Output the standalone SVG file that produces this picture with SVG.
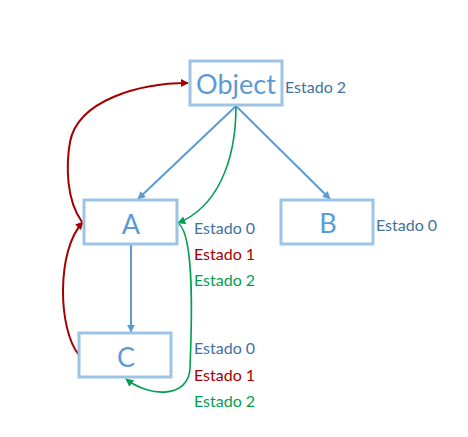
<svg xmlns="http://www.w3.org/2000/svg" width="468" height="437" viewBox="0 0 468 437">
<defs>
<style>
.box{fill:#ffffff;stroke:#9DC3E6;stroke-width:3}
.nt{font-family:Lato,"Liberation Sans",sans-serif;font-size:27px;fill:#5B9BD5;text-anchor:middle}
.lb{font-family:Lato,"Liberation Sans",sans-serif;font-size:16px}
.s0{fill:#41719C}
.s1{fill:#A50000}
.s2{fill:#00A050}
.cb{fill:none;stroke:#5B9BD5;stroke-width:2}
.cr{fill:none;stroke:#A50000;stroke-width:2}
.cg{fill:none;stroke:#00A050;stroke-width:1.6}
</style>
<marker id="ab" viewBox="0 0 10 10" refX="9" refY="5" markerWidth="4" markerHeight="4" orient="auto" markerUnits="strokeWidth"><path d="M0,0 L10,5 L0,10 z" fill="#5B9BD5"/></marker>
<marker id="ar" viewBox="0 0 10 10" refX="9" refY="5" markerWidth="4" markerHeight="4" orient="auto" markerUnits="strokeWidth"><path d="M0,0 L10,5 L0,10 z" fill="#A50000"/></marker>
<marker id="ag" viewBox="0 0 10 10" refX="9" refY="5" markerWidth="5" markerHeight="5" orient="auto" markerUnits="strokeWidth"><path d="M0,0 L10,5 L0,10 z" fill="#00A050"/></marker>
</defs>
<rect width="468" height="437" fill="#ffffff"/>
<g id="connectors">
<path class="cb" d="M236,106 L138,199" marker-end="url(#ab)"/>
<path class="cb" d="M236,106 L330,199" marker-end="url(#ab)"/>
<path class="cb" d="M131,245 L131,332" marker-end="url(#ab)"/>
<path class="cr" d="M82,222 C66,200 66,165 70,142 C78,100 140,83 188,83" marker-end="url(#ar)"/>
<path class="cr" d="M79,355 C58,330 56,250 83,222" marker-end="url(#ar)"/>
<path class="cg" d="M236,106 C236,165 215,208 178,223" marker-end="url(#ag)"/>
<path class="cg" d="M179,224 C196,238 191,340 190,368 C189,398 150,398 126,379" marker-end="url(#ag)"/>
</g>
<g id="node-object">
<rect class="box" x="190" y="61" width="92" height="44"/>
<text class="nt" x="236" y="94">Object</text>
<text class="lb s0" x="285" y="93">Estado 2</text>
</g>
<g id="node-a">
<rect class="box" x="84" y="200" width="93" height="44"/>
<text class="nt" x="131" y="234">A</text>
<text class="lb s0" x="194" y="234">Estado 0</text>
<text class="lb s1" x="194" y="260">Estado 1</text>
<text class="lb s2" x="194" y="286">Estado 2</text>
</g>
<g id="node-b">
<rect class="box" x="281" y="200" width="92" height="44"/>
<text class="nt" x="328" y="233">B</text>
<text class="lb s0" x="376" y="231">Estado 0</text>
</g>
<g id="node-c">
<rect class="box" x="79" y="333" width="92" height="44"/>
<text class="nt" x="126" y="367">C</text>
<text class="lb s0" x="194" y="354">Estado 0</text>
<text class="lb s1" x="194" y="381">Estado 1</text>
<text class="lb s2" x="194" y="407">Estado 2</text>
</g>
</svg>
